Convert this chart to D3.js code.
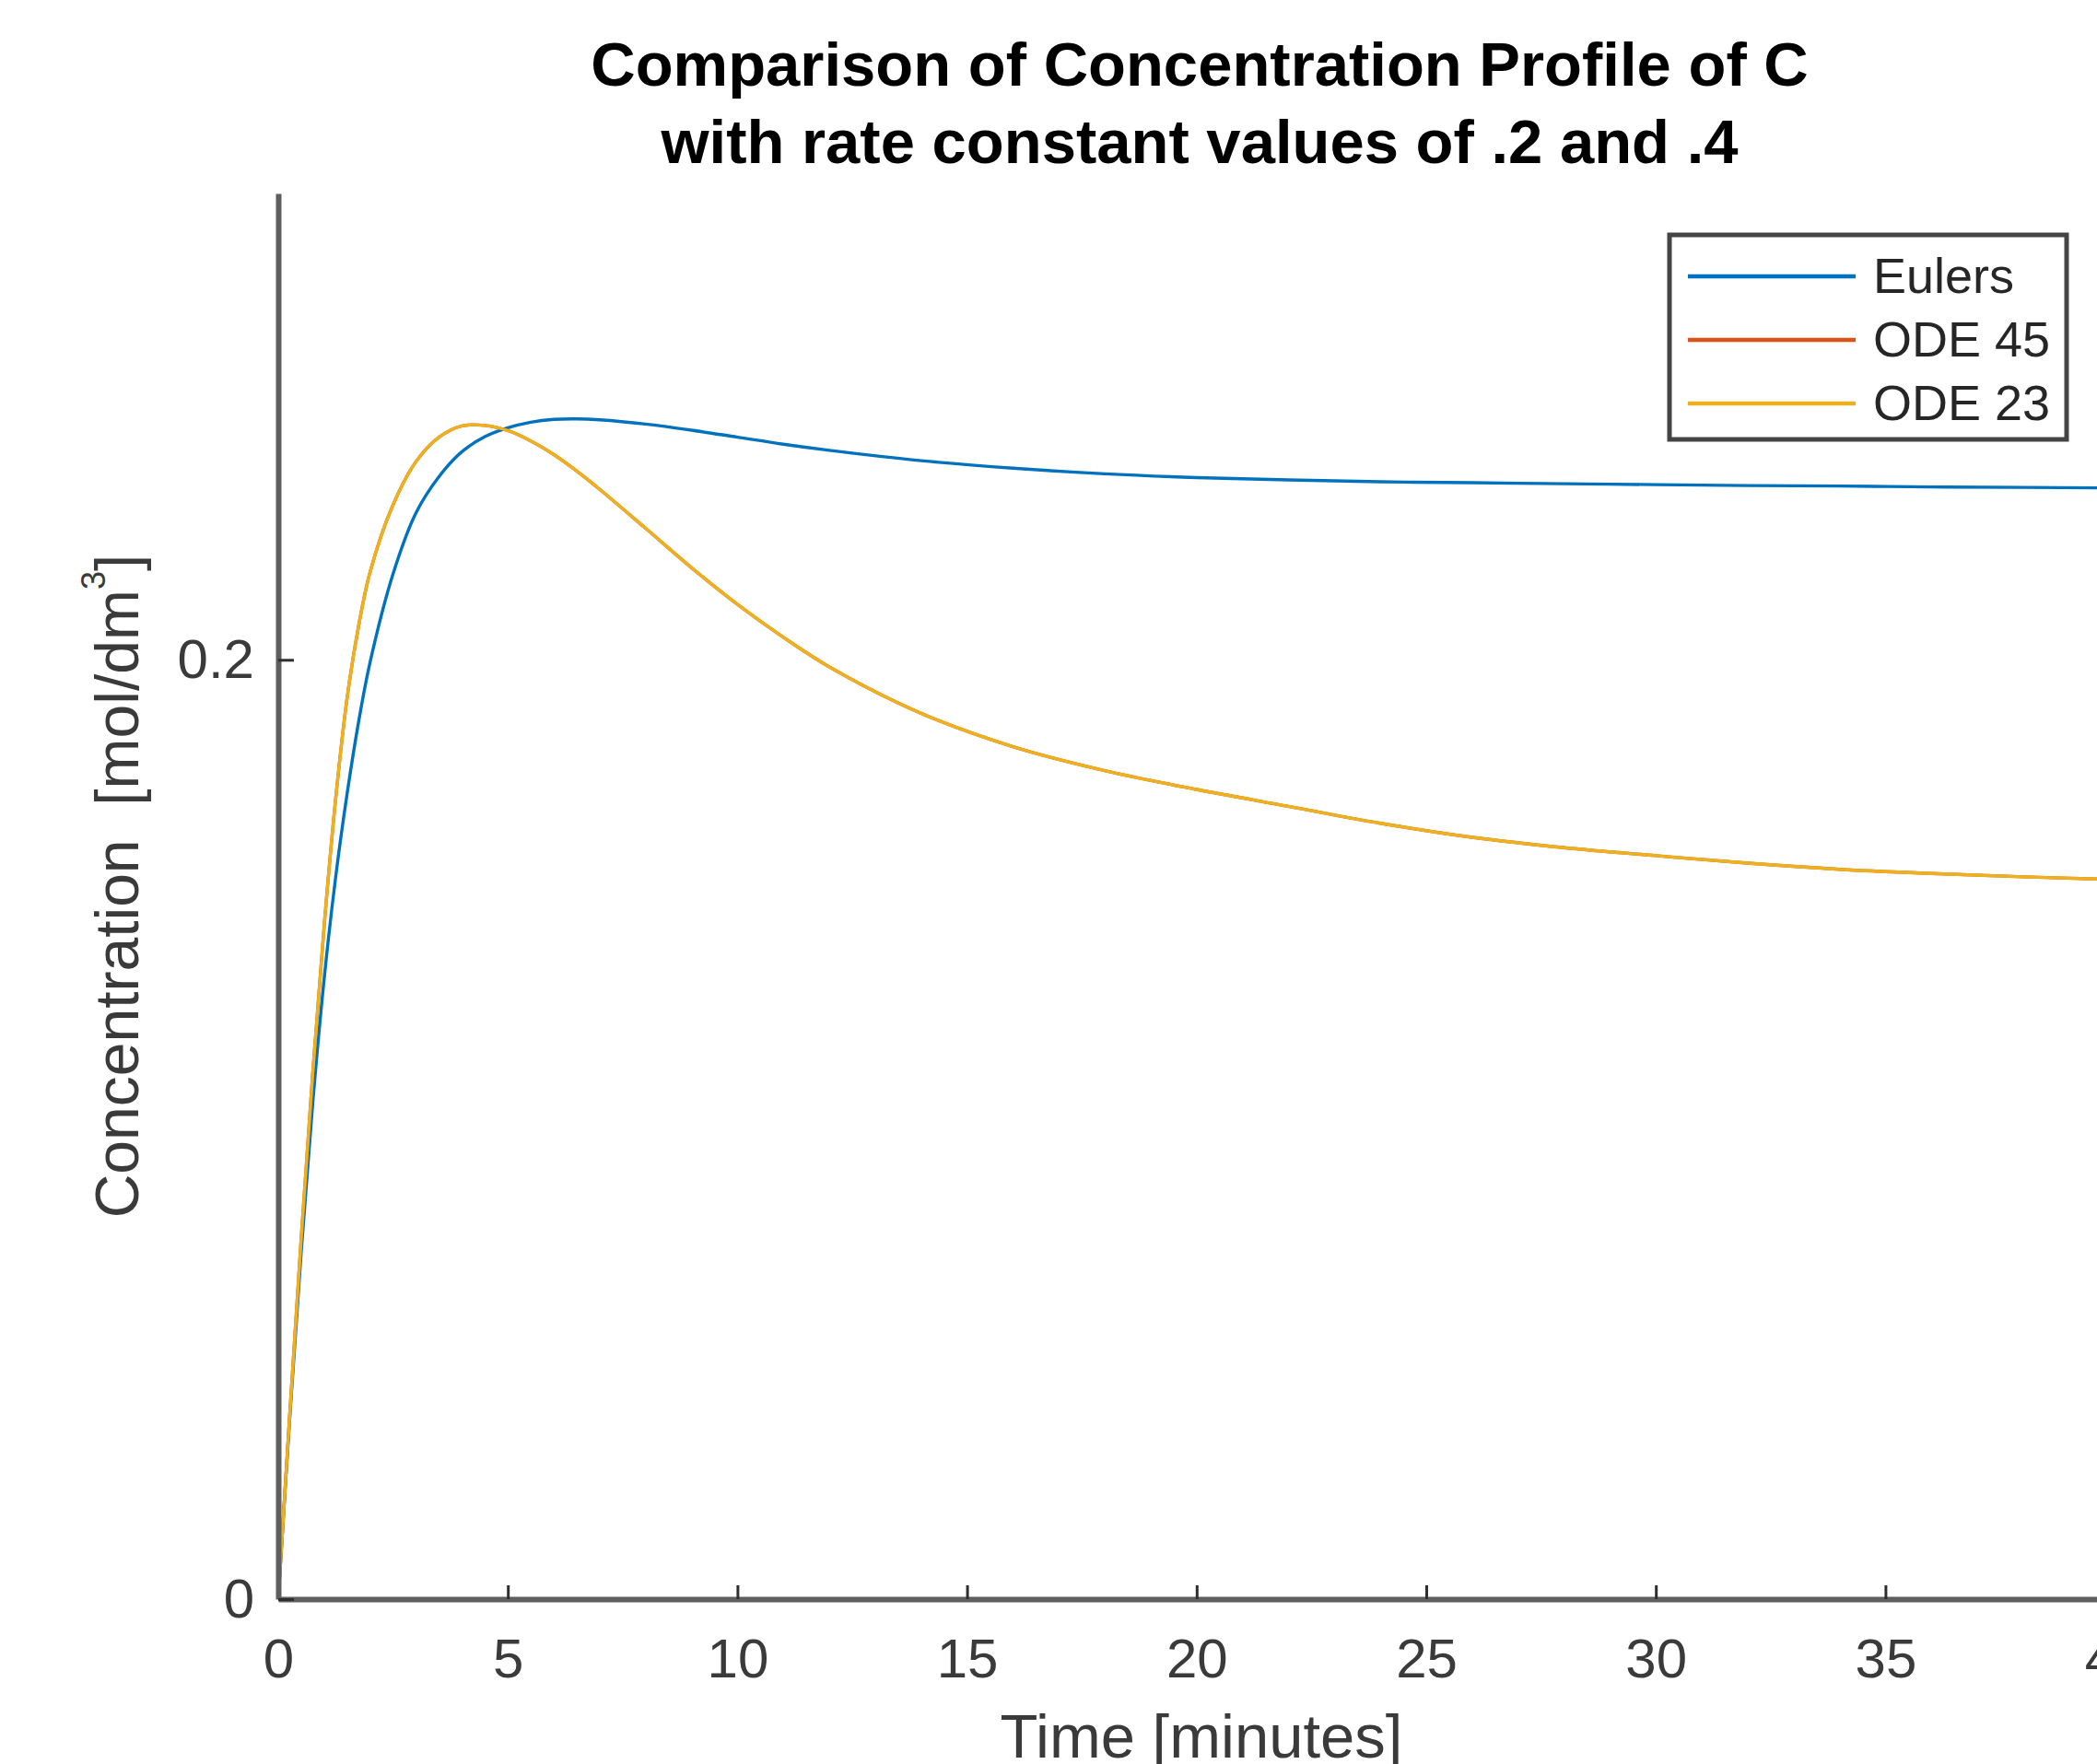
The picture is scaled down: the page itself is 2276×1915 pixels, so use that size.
<!DOCTYPE html>
<html>
<head>
<meta charset="utf-8">
<script src="https://cdn.jsdelivr.net/npm/d3@7"></script>
<style>
  html, body { margin: 0; padding: 0; background: #fff; }
  svg { display: block; }
</style>
</head>
<body>
<svg id="chart" width="2276" height="1915"></svg>
<script>
// ----- data -----
const timeMin = [0, 0.25, 0.5, 0.75, 1, 1.25, 1.5, 1.75, 2, 2.5, 3, 3.5, 4, 4.5, 5, 5.5, 6, 6.5, 7, 8, 9, 10, 11, 12, 14, 16, 18, 20, 22, 24, 26, 28, 30, 32, 34, 36, 38, 40];

const eulers = [0, 0.0385, 0.0739, 0.1055, 0.1321, 0.1537, 0.1715, 0.1868, 0.1995, 0.2183, 0.2313, 0.2390, 0.2443, 0.2475, 0.2494, 0.2506, 0.2512, 0.2513, 0.2511, 0.2502, 0.2489, 0.2474, 0.2459, 0.2446, 0.2424, 0.2408, 0.2396, 0.2388, 0.2383, 0.2379, 0.2377, 0.2375, 0.2373, 0.2371, 0.2370, 0.2368, 0.2367, 0.2366];

const ode45 = [0, 0.0394, 0.0769, 0.1119, 0.1434, 0.1704, 0.1919, 0.2072, 0.2187, 0.2330, 0.2422, 0.2474, 0.2498, 0.2499, 0.2488, 0.2466, 0.2437, 0.2402, 0.2363, 0.2280, 0.2196, 0.2118, 0.2048, 0.1985, 0.1886, 0.1815, 0.1764, 0.1724, 0.1688, 0.1652, 0.1622, 0.1600, 0.1583, 0.1567, 0.1554, 0.1545, 0.1538, 0.1532];

const ode23 = [0, 0.0394, 0.0769, 0.1119, 0.1434, 0.1704, 0.1919, 0.2072, 0.2187, 0.2330, 0.2422, 0.2474, 0.2498, 0.2499, 0.2488, 0.2466, 0.2437, 0.2402, 0.2363, 0.2280, 0.2196, 0.2118, 0.2048, 0.1985, 0.1886, 0.1815, 0.1764, 0.1724, 0.1688, 0.1652, 0.1622, 0.1600, 0.1583, 0.1567, 0.1554, 0.1545, 0.1538, 0.1532];

const seriesNames = ["Eulers", "ODE 45", "ODE 23"];
const seriesColors = ["#0072BD", "#D95319", "#EDB120"];

const xTicks = [0, 5, 10, 15, 20, 25, 30, 35, 40];
const yTicks = [0, 0.2];
const yTickLabels = ["0", "0.2"];

const titleLines = ["Comparison of Concentration Profile of C", "with rate constant values of .2 and .4"];

// ----- layout -----
const width = 2276, height = 1915;
const font = "'Liberation Sans', Arial, Helvetica, sans-serif";

const svg = d3.select("#chart");
svg.append("rect").attr("width", width).attr("height", height).attr("fill", "#fff");

const x = d3.scaleLinear().domain([0, 40]).range([302, 2295.6]);
const y = d3.scaleLinear().domain([0, 0.2993]).range([1736, 210]);

// curves (ODE 23 last, it hides ODE 45)
const series = [eulers, ode45, ode23];
const line = d3.line()
    .x((d, i) => x(timeMin[i]))
    .y((d) => y(d))
    .curve(d3.curveCatmullRom.alpha(0.5));

svg.append("g")
    .attr("fill", "none")
    .selectAll("path")
    .data(series)
    .join("path")
    .attr("d", line)
    .attr("stroke", (d, i) => seriesColors[i])
    .attr("stroke-width", 3.4)
    .attr("stroke-linejoin", "round");

// axes, ticks point inward
const xAxis = d3.axisBottom(x).tickValues(xTicks).tickSizeInner(-15).tickSizeOuter(0).tickPadding(42);
const yAxis = d3.axisLeft(y).tickValues(yTicks).tickFormat((d, i) => yTickLabels[i]).tickSizeInner(-17).tickSizeOuter(0).tickPadding(26);

const gx = svg.append("g").attr("transform", `translate(0,${y(0)})`).call(xAxis);
const gy = svg.append("g").attr("transform", `translate(${x(0)},0)`).call(yAxis);

for (const g of [gx, gy]) {
    g.attr("font-family", font).attr("font-size", 60);
    g.select(".domain").attr("stroke", "#5e5e5e").attr("stroke-width", 6);
    g.selectAll(".tick line").attr("stroke", "#2e2e2e").attr("stroke-width", 3);
    g.selectAll(".tick text").attr("fill", "#3a3a3a");
}

// axis labels
svg.append("text")
    .attr("x", 1304)
    .attr("y", 1908)
    .attr("text-anchor", "middle")
    .attr("font-family", font)
    .attr("font-size", 67)
    .attr("fill", "#3a3a3a")
    .text("Time [minutes]");

const yl = svg.append("text")
    .attr("transform", "translate(150,962) rotate(-90)")
    .attr("text-anchor", "middle")
    .attr("font-family", font)
    .attr("font-size", 66)
    .attr("fill", "#3a3a3a")
    .style("white-space", "pre");
yl.append("tspan").text("Concentration  [mol/dm");
yl.append("tspan").attr("dy", -36).attr("font-size", 36).text("3");
yl.append("tspan").attr("dy", 36).text("]");

// title
svg.append("g")
    .selectAll("text")
    .data(titleLines)
    .join("text")
    .attr("x", 1302)
    .attr("y", (d, i) => 93 + i * 84)
    .attr("text-anchor", "middle")
    .attr("font-family", font)
    .attr("font-weight", "bold")
    .attr("font-size", 67)
    .attr("fill", "#000")
    .text((d) => d);

// legend
const legend = svg.append("g");
legend.append("rect")
    .attr("x", 1812).attr("y", 255)
    .attr("width", 431).attr("height", 222)
    .attr("fill", "#fff")
    .attr("stroke", "#444")
    .attr("stroke-width", 5);

const rows = legend.selectAll("g.row")
    .data(seriesNames)
    .join("g")
    .attr("class", "row")
    .attr("transform", (d, i) => `translate(0,${300 + i * 69})`);

rows.append("line")
    .attr("x1", 1832).attr("x2", 2014)
    .attr("y1", 0).attr("y2", 0)
    .attr("stroke", (d, i) => seriesColors[i])
    .attr("stroke-width", 4.5);

rows.append("text")
    .attr("x", 2033)
    .attr("y", 0)
    .attr("dy", "0.33em")
    .attr("font-family", font)
    .attr("font-size", 54)
    .attr("fill", "#262626")
    .text((d) => d);
</script>
</body>
</html>
